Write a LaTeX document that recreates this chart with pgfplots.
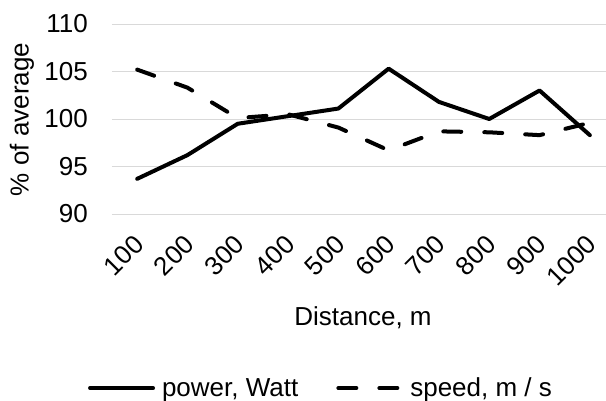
\documentclass[border=0pt]{standalone}
\usepackage{fontspec}
\setmainfont{Liberation Sans}
\usepackage{pgfplots}
\pgfplotsset{compat=1.18}
\definecolor{gridgray}{HTML}{D9D9D9}
\begin{document}
\begin{tikzpicture}
\path[use as bounding box] (-112bp,-187bp) rectangle (494bp,214bp);
\begin{axis}[
    at={(0,0)}, anchor=south west,
    scale only axis,
    width=503bp, height=190bp,
    xmin=0.5, xmax=10.5,
    ymin=90, ymax=110,
    xtick={1,...,10},
    xticklabels={100,200,300,400,500,600,700,800,900,1000},
    ytick={90,95,100,105,110},
    ymajorgrids,
    major grid style={draw=gridgray, line width=1bp},
    axis line style={draw=none},
    tick style={draw=none},
    /pgf/number format/assume math mode=true,
    ticklabel style={font=\fontsize{26bp}{30bp}\selectfont},
    yticklabel style={anchor=east, inner sep=0pt, xshift=-24bp},
    xticklabel style={inner sep=0pt, xshift=2bp, yshift=-26bp, rotate=45, anchor=east},
    xlabel={Distance, m},
    ylabel={\% of average},
    label style={font=\fontsize{26bp}{30bp}\selectfont},
    xlabel style={at={(axis description cs:0.499,-0.547)}, anchor=center},
    ylabel style={at={(axis description cs:-0.1789,0.4974)}, anchor=center},
    legend columns=2,
    legend style={at={(axis description cs:0.4155,-0.916)}, anchor=center,
        draw=none, fill=none, font=\fontsize{26bp}{30bp}\selectfont,
        /tikz/every even column/.append style={column sep=36bp}},
    legend image code/.code={\draw[#1] (0bp,0bp) -- (63bp,0bp); \path (68bp,0bp);},
]
\addplot[black, line width=4bp, line cap=round, line join=round] coordinates {
    (1, 93.7)
    (2, 96.2)
    (3, 99.5)
    (4, 100.3)
    (5, 101.1)
    (6, 105.3)
    (7, 101.8)
    (8, 100.0)
    (9, 103.0)
    (10, 98.3)
};
\addlegendentry{power, Watt}

\addplot[black, line width=4bp, line cap=round, line join=round,
    dash pattern=on 18bp off 23bp] coordinates {
    (1, 105.2)
    (2, 103.3)
    (3, 100.1)
    (4, 100.5)
    (5, 99.1)
    (6, 96.7)
    (7, 98.7)
    (8, 98.6)
    (9, 98.3)
    (10, 99.6)
};
\addlegendentry{speed, m / s}
\end{axis}
\end{tikzpicture}
\end{document}
